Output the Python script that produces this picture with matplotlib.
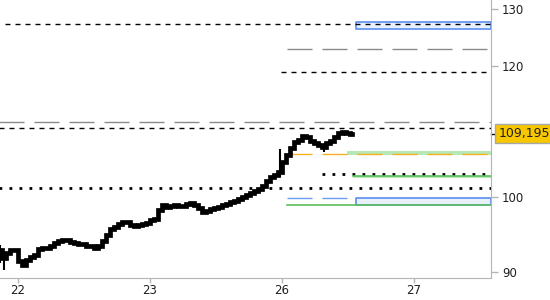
import numpy as np
import matplotlib
matplotlib.use("Agg")
import matplotlib.pyplot as plt
import matplotlib.transforms as mtransforms

# trading-day index: 0=22, 1=23, 2=26, 3=27
day_ticks = [0, 1, 2, 3]
day_labels = ["22", "23", "26", "27"]

# price closes, one bar every ~0.03 day starting at day -0.136
bar_start = -0.136
bar_step = 0.0303
closes = [
    92.82, 91.79, 92.43, 92.82, 92.82, 91.40, 90.89, 91.53, 91.91, 92.17,
    92.95, 93.08, 93.08, 93.34, 93.73, 93.99, 94.12, 94.12, 93.86, 93.73,
    93.60, 93.60, 93.34, 93.34, 93.08, 93.34, 93.99, 94.78, 95.58, 95.85,
    96.25, 96.52, 96.52, 96.12, 95.98, 96.12, 96.25, 96.39, 96.79, 96.93,
    98.16, 98.85, 98.57, 98.71, 98.85, 98.71, 98.71, 98.98, 99.12, 98.85,
    98.43, 97.88, 98.02, 98.29, 98.43, 98.57, 98.85, 98.98, 99.26, 99.40,
    99.68, 99.96, 100.24, 100.52, 100.80, 101.09, 101.51, 102.22, 102.79, 103.08,
    103.51, 104.97, 106.00, 107.05, 107.95, 108.25, 108.86, 108.71, 108.10, 107.80,
    107.50, 107.20, 107.80, 108.10, 108.71, 109.32, 109.47, 109.32, 109.195,
]
# a few long wicks (bar index, low, high)
wick_idx = [0, 1, 70, 81]
wick_lo = [91.1, 90.2, 102.8, 106.4]
wick_hi = [93.5, 92.2, 106.9, 107.6]
last_price = 109.195
last_label = "109,195"

# horizontal levels: value, start day, end day
black_dash = [(127.3, -0.10, None), (110.1, -0.14, None), (119.05, 1.99, None)]
grey_dash = [(110.97, -0.14, None), (122.95, 2.04, None)]
black_dot = [(101.27, -0.14, None), (103.2, 2.30, None)]
orange_dash = [(106.1, 2.04, None)]
blue_dash = [(99.78, 2.04, 2.49)]
green_line = [(103.0, 2.54, None), (98.8, 2.04, None)]
blue_boxes = [(126.4, 127.6, 2.56), (98.85, 99.78, 2.56)]
green_bands = [(105.95, 106.55, 2.49), (102.6, 103.0, 2.54)]

y_ticks = [90, 100, 120, 130]
x_min, x_max = -0.136, 3.583
y_min, y_max = 89.29, 131.67

fig = plt.figure(figsize=(5.5, 3.0), dpi=100)
ax = fig.add_axes([0.0, 0.0743, 0.8927, 0.9257])
ax.set_yscale("log")
ax.set_xlim(x_min, x_max)
ax.set_ylim(y_min, y_max)


def hline(level, x0, x1, **kw):
    ax.plot([x0, x_max if x1 is None else x1], [level, level], **kw)


for lo, hi, x0 in green_bands:
    ax.fill_between([x0, x_max], lo, hi, color="#b5e8b5", lw=0, zorder=1)
for lo, hi, x0 in blue_boxes:
    ax.fill_between([x0, x_max], lo, hi, facecolor="#e8effd", edgecolor="#5b8ef0", lw=1.2, zorder=1)

for v, x0, x1 in black_dash:
    hline(v, x0, x1, color="black", lw=1, dashes=(3.6, 3.6), zorder=2)
for v, x0, x1 in grey_dash:
    hline(v, x0, x1, color="#8a8a8a", lw=1, dashes=(18, 7.2), zorder=2)
for v, x0, x1 in black_dot:
    hline(v, x0, x1, color="black", lw=2, dashes=(1, 2.6), zorder=2)
for v, x0, x1 in orange_dash:
    hline(v, x0, x1, color="#f5b020", lw=1, dashes=(18, 7.2), zorder=2)
for v, x0, x1 in blue_dash:
    hline(v, x0, x1, color="#6a9cf0", lw=1, dashes=(18, 7.2), zorder=2)
for v, x0, x1 in green_line:
    hline(v, x0, x1, color="#5cbf5c", lw=1.2, zorder=2)

t = bar_start + bar_step * np.arange(len(closes))
ax.plot(t, closes, color="black", lw=3.4, drawstyle="steps-mid", solid_joinstyle="miter", zorder=5)
ax.vlines(t[wick_idx], wick_lo, wick_hi, color="black", lw=1.5, zorder=5)

# axes styling
for s in ["top", "left"]:
    ax.spines[s].set_visible(False)
for s in ["right", "bottom"]:
    ax.spines[s].set_color("#b4b4b4")
ax.yaxis.tick_right()
ax.set_yticks(y_ticks)
ax.set_yticklabels([str(v) for v in y_ticks])
ax.yaxis.set_minor_locator(matplotlib.ticker.NullLocator())
ax.set_xticks(day_ticks)
ax.set_xticklabels(day_labels)
ax.tick_params(axis="both", colors="#b4b4b4", labelcolor="#202020", labelsize=8.5, width=1)
ax.tick_params(axis="y", length=5, pad=3)
ax.tick_params(axis="x", length=3.5, pad=1)

# last price marker on the right axis
trans = mtransforms.blended_transform_factory(ax.transAxes, ax.transData)
ax.plot([1.0, 1.012], [last_price, last_price], color="black", lw=1, transform=trans, clip_on=False)
ax.text(1.015, last_price, last_label, transform=trans, ha="left", va="center", fontsize=9,
        color="#202020", clip_on=False,
        bbox=dict(boxstyle="square,pad=0.25", facecolor="#f7c800", edgecolor="#a8a8a8", lw=1))

fig.savefig("out.png", dpi=100)
